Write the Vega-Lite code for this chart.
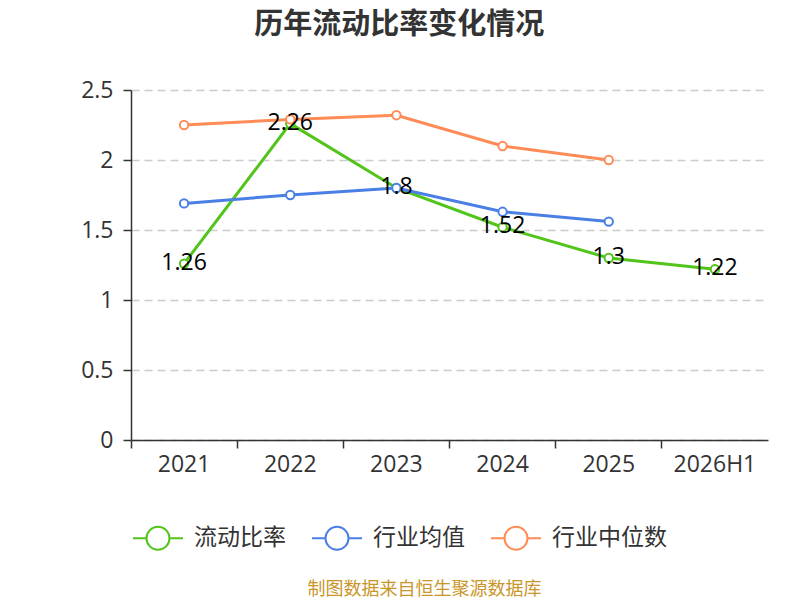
{
  "$schema": "https://vega.github.io/schema/vega-lite/v6.json",
  "padding": {"left": 80, "top": 11, "right": 20, "bottom": 5},
  "background": "white",
  "title": {
    "text": "历年流动比率变化情况",
    "fontSize": 29,
    "fontWeight": "bold",
    "color": "#333333",
    "font": "Noto Sans CJK SC",
    "anchor": "middle",
    "offset": 39,
    "dx": -25
  },
  "config": {
    "view": {"stroke": null},
    "font": "Noto Sans CJK SC"
  },
  "vconcat": [
    {
      "width": 637,
      "height": 350,
      "title": {
        "text": "制图数据来自恒生聚源数据库",
        "orient": "bottom",
        "fontSize": 18,
        "fontWeight": "normal",
        "color": "#c9962a",
        "font": "Noto Sans CJK SC",
        "anchor": "middle",
        "offset": 105,
        "dx": -25
      },
      "data": {
        "values": [
          {"year": "2021", "series": "流动比率", "value": 1.26},
          {"year": "2022", "series": "流动比率", "value": 2.26},
          {"year": "2023", "series": "流动比率", "value": 1.8},
          {"year": "2024", "series": "流动比率", "value": 1.52},
          {"year": "2025", "series": "流动比率", "value": 1.3},
          {"year": "2026H1", "series": "流动比率", "value": 1.22},
          {"year": "2021", "series": "行业均值", "value": 1.69},
          {"year": "2022", "series": "行业均值", "value": 1.75},
          {"year": "2023", "series": "行业均值", "value": 1.8},
          {"year": "2024", "series": "行业均值", "value": 1.63},
          {"year": "2025", "series": "行业均值", "value": 1.56},
          {"year": "2021", "series": "行业中位数", "value": 2.25},
          {"year": "2022", "series": "行业中位数", "value": 2.29},
          {"year": "2023", "series": "行业中位数", "value": 2.32},
          {"year": "2024", "series": "行业中位数", "value": 2.1},
          {"year": "2025", "series": "行业中位数", "value": 2.0}
        ]
      },
      "encoding": {
        "x": {
          "field": "year",
          "type": "nominal",
          "sort": ["2021", "2022", "2023", "2024", "2025", "2026H1"],
          "scale": {"type": "band", "paddingInner": 0, "paddingOuter": 0},
          "axis": {
            "title": null,
            "bandPosition": 0,
            "labelAngle": 0,
            "labelFontSize": 23,
            "labelColor": "#333333",
            "labelFont": "Open Sans",
            "labelPadding": 5,
            "tickSize": 8,
            "tickColor": "#333333",
            "tickWidth": 1.5,
            "domainColor": "#333333",
            "domainWidth": 1.5,
            "grid": false
          }
        },
        "y": {
          "field": "value",
          "type": "quantitative",
          "scale": {"domain": [0, 2.5], "nice": false},
          "axis": {
            "title": null,
            "values": [0, 0.5, 1, 1.5, 2, 2.5],
            "format": "~g",
            "labelFontSize": 23,
            "labelColor": "#333333",
            "labelFont": "Open Sans",
            "labelPadding": 10,
            "tickSize": 8,
            "tickColor": "#333333",
            "tickWidth": 1.5,
            "domainColor": "#333333",
            "domainWidth": 1.5,
            "grid": true,
            "gridColor": "#cccccc",
            "gridDash": [8, 5],
            "gridWidth": 1.3
          }
        },
        "color": {
          "field": "series",
          "type": "nominal",
          "sort": ["流动比率", "行业均值", "行业中位数"],
          "scale": {
            "domain": ["流动比率", "行业均值", "行业中位数"],
            "range": ["#52c41a", "#4a7fe5", "#ff8c57"]
          },
          "legend": {
            "title": null,
            "orient": "none",
            "direction": "horizontal",
            "legendX": 1,
            "legendY": 422,
            "labelFontSize": 23,
            "labelColor": "#333333",
            "labelFont": "Noto Sans CJK SC",
            "symbolType": "M-1,0L-0.46,0M0.46,0L1,0M0.46,0A0.46,0.46,0,1,1,-0.46,0A0.46,0.46,0,1,1,0.46,0",
            "symbolSize": 2500,
            "symbolStrokeWidth": 2,
            "symbolOffset": 0,
            "labelOffset": 10,
            "columnPadding": 22,
            "symbolLimit": 0,
            "encode": {
              "symbols": {"update": {"fill": {"value": "white"}, "fillOpacity": {"value": 1}}}
            }
          }
        }
      },
      "layer": [
        {
          "mark": {"type": "line", "strokeWidth": 3},
          "encoding": {}
        },
        {
          "mark": {"type": "point", "filled": false, "fill": "white", "fillOpacity": 1, "size": 70, "strokeWidth": 2, "opacity": 1},
          "encoding": {}
        },
        {
          "transform": [{"filter": "datum.series === '流动比率'"}],
          "mark": {"type": "text", "fontSize": 23, "align": "center", "baseline": "middle", "font": "Open Sans", "dy": -1},
          "encoding": {
            "text": {"field": "value", "type": "quantitative"},
            "color": {"value": "#000000"}
          }
        }
      ]
    }
  ]
}
